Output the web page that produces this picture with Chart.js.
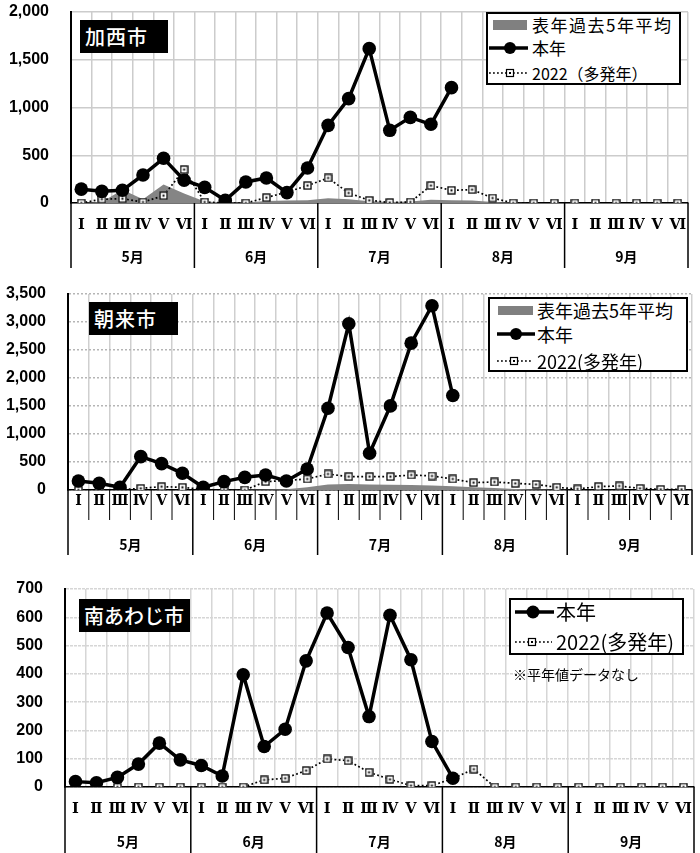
<!DOCTYPE html>
<html><head><meta charset="utf-8">
<script src="https://cdn.jsdelivr.net/npm/chart.js@4.4.1/dist/chart.umd.min.js"></script>
<style>
html,body{margin:0;padding:0;background:#fff;}
body{width:700px;height:853px;position:relative;overflow:hidden;font-family:"Noto Sans CJK JP","Noto Sans",sans-serif;}
.wrap{position:absolute;left:0;width:700px;}
.title{position:absolute;background:#000;color:#fff;font-size:20px;font-weight:500;line-height:33px;height:33px;padding-left:5px;box-sizing:border-box;white-space:nowrap;}
.legend{position:absolute;border:2px solid #000;background:#fff;box-sizing:border-box;}
.row{position:absolute;left:0;right:0;height:24px;}
.row svg{position:absolute;left:0;top:0;}
.row span{position:absolute;top:0;line-height:24px;white-space:nowrap;color:#000;}
.note{position:absolute;font-size:14px;white-space:nowrap;color:#000;}
</style></head>
<body>
<div class="wrap" style="top:0;height:275px"><canvas id="c1"></canvas></div>
<div class="wrap" style="top:280px;height:280px"><canvas id="c2"></canvas></div>
<div class="wrap" style="top:575px;height:278px"><canvas id="c3"></canvas></div>

<div class="title" style="left:80px;top:20px;width:88px;letter-spacing:1px">加西市</div>
<div class="title" style="left:89px;top:302px;width:89px;letter-spacing:1px">朝来市</div>
<div class="title" style="left:79px;top:599px;width:111px">南あわじ市</div>

<div class="legend" style="left:486px;top:12px;width:195px;height:73px">
  <div class="row" style="top:-1px"><svg width="44" height="24"><rect x="5" y="7" width="34" height="10" fill="#808080"/></svg><span style="left:44px;font-size:17px;letter-spacing:1.5px">表年過去5年平均</span></div>
  <div class="row" style="top:22px"><svg width="44" height="24"><line x1="1" y1="12" x2="40" y2="12" stroke="#000" stroke-width="3.5"/><circle cx="22" cy="12" r="6" fill="#000"/></svg><span style="left:44px;font-size:17px">本年</span></div>
  <div class="row" style="top:47px"><svg width="44" height="24"><line x1="1" y1="12" x2="40" y2="12" stroke="#000" stroke-width="1.6" stroke-dasharray="1.8 2.2"/><rect x="18.5" y="8.5" width="7" height="7" fill="#fff" stroke="#000" stroke-width="1.2"/><rect x="21" y="11" width="2" height="2" fill="#000"/></svg><span style="left:44px;font-size:16px">2022（多発年）</span></div>
</div>

<div class="legend" style="left:488px;top:297px;width:200px;height:75px">
  <div class="row" style="top:-1px"><svg width="48" height="24"><rect x="8" y="8" width="35" height="9" fill="#808080"/></svg><span style="left:47px;font-size:18px">表年過去5年平均</span></div>
  <div class="row" style="top:23px"><svg width="48" height="24"><line x1="7" y1="12" x2="45" y2="12" stroke="#000" stroke-width="3.5"/><circle cx="26" cy="12" r="6" fill="#000"/></svg><span style="left:47px;font-size:18px">本年</span></div>
  <div class="row" style="top:50px"><svg width="48" height="24"><line x1="7" y1="12" x2="43" y2="12" stroke="#000" stroke-width="1.6" stroke-dasharray="1.8 2.2"/><rect x="20.5" y="8.5" width="7" height="7" fill="#fff" stroke="#000" stroke-width="1.2"/><rect x="23" y="11" width="2" height="2" fill="#000"/></svg><span style="left:47px;font-size:18px">2022(多発年)</span></div>
</div>

<div class="legend" style="left:509px;top:598px;width:175px;height:57px">
  <div class="row" style="top:0px"><svg width="46" height="24"><line x1="4" y1="12" x2="43" y2="12" stroke="#000" stroke-width="3.5"/><circle cx="22" cy="12" r="6.5" fill="#000"/></svg><span style="left:45px;font-size:20px">本年</span></div>
  <div class="row" style="top:30px"><svg width="46" height="24"><line x1="4" y1="12" x2="41" y2="12" stroke="#000" stroke-width="1.6" stroke-dasharray="1.8 2.2"/><rect x="17.5" y="8.5" width="7" height="7" fill="#fff" stroke="#000" stroke-width="1.2"/><rect x="20" y="11" width="2" height="2" fill="#000"/></svg><span style="left:45px;font-size:20px">2022(多発年)</span></div>
</div>
<div class="note" style="left:513px;top:664px">※平年値データなし</div>

<script>
// ---- categories / tick labels ----
const months = ['5月','6月','7月','8月','9月'];
const roman = ['Ⅰ','Ⅱ','Ⅲ','Ⅳ','Ⅴ','Ⅵ'];
const xLabels = months.flatMap(() => roman);

// ---- 加西市 ----
const kasaiAvg  = [0,10,140,40,195,100,15,5,5,20,25,30,50,40,18,10,15,35,30,25,10,3,0,0,0,0,0,0,0,0];
const kasaiNow  = [145,122,133,293,468,238,164,28,220,262,109,367,813,1093,1616,761,897,824,1208,null,null,null,null,null,null,null,null,null,null,null];
const kasai2022 = [0,40,45,10,77,350,10,0,0,56,115,182,262,105,28,5,10,182,133,140,52,0,0,0,0,0,0,0,0,0];

// ---- 朝来市 ----
const asagoAvg  = [0,0,0,0,0,0,0,0,3,8,15,50,100,105,100,95,90,80,65,50,35,20,10,5,0,0,0,0,0,0];
const asagoNow  = [161,119,48,596,471,298,48,149,226,268,161,375,1460,2968,656,1502,2622,3290,1687,null,null,null,null,null,null,null,null,null,null,null];
const asago2022 = [0,0,5,30,60,48,10,0,0,149,170,197,286,238,238,238,268,250,197,131,143,119,100,48,18,60,72,30,12,12];

// ---- 南あわじ市 ----
const awajiNow  = [19,15,34,81,155,96,76,39,397,143,204,446,615,493,249,607,450,161,31,null,null,null,null,null,null,null,null,null,null,null];
const awaji2022 = [0,0,0,0,0,0,0,0,0,25,31,58,99,93,52,27,5,5,30,63,0,0,0,0,0,0,0,0,0,0];

// square marker with centre dot
function sqMarker(){
  const c = document.createElement('canvas'); c.width = 9; c.height = 9;
  const g = c.getContext('2d');
  g.fillStyle = '#fff'; g.fillRect(0.5,0.5,8,8);
  g.strokeStyle = '#000'; g.lineWidth = 1.3; g.strokeRect(1,1,7,7);
  g.fillStyle = '#000'; g.fillRect(3.5,3.5,2,2);
  return c;
}
const SQ = sqMarker();

const sepPlugin = {
  id: 'sep',
  afterDraw(chart, args, opts) {
    const x = chart.scales.x, ca = chart.chartArea, ctx = chart.ctx;
    const n = x.ticks.length;
    const half = (x.getPixelForValue(1) - x.getPixelForValue(0)) / 2;
    ctx.save();
    ctx.strokeStyle = '#000';
    for (let i = 0; i <= n; i++) {
      const px = i < n ? x.getPixelForValue(i) - half : x.getPixelForValue(n - 1) + half;
      if (i % 6 === 0) {
        ctx.lineWidth = 1.5;
        ctx.beginPath(); ctx.moveTo(px, ca.bottom); ctx.lineTo(px, opts.bottom); ctx.stroke();
      } else if (opts.all) {
        ctx.lineWidth = 1;
        ctx.beginPath(); ctx.moveTo(px, ca.bottom); ctx.lineTo(px, opts.mid); ctx.stroke();
      }
    }
    ctx.restore();
  }
};

function noPad(s) { s.paddingTop = 0; s.paddingBottom = 0; s.paddingLeft = 0; s.paddingRight = 0; }

function build(id, g) {
  const datasets = [
    { data: g.now, borderColor: '#000', backgroundColor: '#000', borderWidth: 3.5,
      pointRadius: 6.8, pointBackgroundColor: '#000', pointBorderColor: '#000', pointBorderWidth: 0,
      spanGaps: false, tension: 0 },
    { data: g.y2022, borderColor: '#000', borderWidth: 1.7, borderDash: [1.8, 2.4],
      pointStyle: SQ, pointRadius: 4.5, tension: 0 }
  ];
  if (g.avg) datasets.push({ data: g.avg, borderWidth: 0, backgroundColor: '#858585',
      fill: 'origin', pointRadius: 0, tension: 0 });
  return new Chart(document.getElementById(id), {
    type: 'line',
    data: { labels: xLabels, datasets },
    plugins: [sepPlugin],
    options: {
      responsive: true, maintainAspectRatio: false, animation: false,
      layout: { autoPadding: false, padding: { top: g.padTop, right: g.padRight, bottom: g.padBottom, left: 0 } },
      plugins: { legend: { display: false }, tooltip: { enabled: false },
                 sep: { all: g.sepAll, mid: g.sepMid, bottom: g.sepBottom } },
      scales: {
        x: {
          type: 'category', offset: true, weight: 0,
          grid: { offset: true, color: g.vGrid, lineWidth: 1.5, drawTicks: false },
          border: { color: '#000', width: 1.5 },
          ticks: { autoSkip: false, maxRotation: 0, padding: g.romanPad, color: '#000',
                   font: { family: 'DejaVu Serif', weight: 'bold', size: g.romanSize } },
          afterFit: s => { s.height = g.romanH; noPad(s); }
        },
        x2: {
          type: 'category', labels: months, offset: true, position: 'bottom', weight: 1,
          grid: { display: false, drawTicks: false }, border: { display: false },
          ticks: { autoSkip: false, maxRotation: 0, padding: g.monthPad, color: '#000',
                   font: { family: 'Noto Sans CJK JP', weight: 'bold', size: 14 } },
          afterFit: s => { s.height = g.monthH; noPad(s); }
        },
        y: {
          min: 0, max: g.max,
          grid: { color: g.hGrid, lineWidth: 1.5, drawTicks: false },
          border: { color: '#000', width: 2, dash: g.hDash },
          ticks: { stepSize: g.step, padding: 22, color: '#000',
                   font: { family: 'Liberation Sans', weight: 'bold', size: 16 },
                   callback: v => v.toLocaleString('en-US') },
          afterFit: s => { s.width = g.yW; noPad(s); }
        }
      }
    }
  });
}

build('c1', { now: kasaiNow, y2022: kasai2022, avg: kasaiAvg, max: 2000, step: 500,
  padTop: 12, padRight: 12, padBottom: 7, yW: 71, romanH: 39, monthH: 26,
  romanPad: 14, monthPad: 6, romanSize: 14.5,
  vGrid: '#cccccc', hGrid: '#cccccc', hDash: [],
  sepAll: false, sepMid: 0, sepBottom: 268 });

build('c2', { now: asagoNow, y2022: asago2022, avg: asagoAvg, max: 3500, step: 500,
  padTop: 14, padRight: 8, padBottom: 5, yW: 68, romanH: 30, monthH: 35,
  romanPad: 3, monthPad: 16, romanSize: 14,
  vGrid: '#cfcfcf', hGrid: '#b5b5b5', hDash: [2, 2],
  sepAll: true, sepMid: 240, sepBottom: 275 });

build('c3', { now: awajiNow, y2022: awaji2022, avg: null, max: 700, step: 100,
  padTop: 14, padRight: 6, padBottom: 0, yW: 65, romanH: 38, monthH: 28,
  romanPad: 14, monthPad: 8, romanSize: 14.5,
  vGrid: '#d6d6d6', hGrid: '#d6d6d6', hDash: [3, 1],
  sepAll: false, sepMid: 0, sepBottom: 278 });
</script>
</body></html>
